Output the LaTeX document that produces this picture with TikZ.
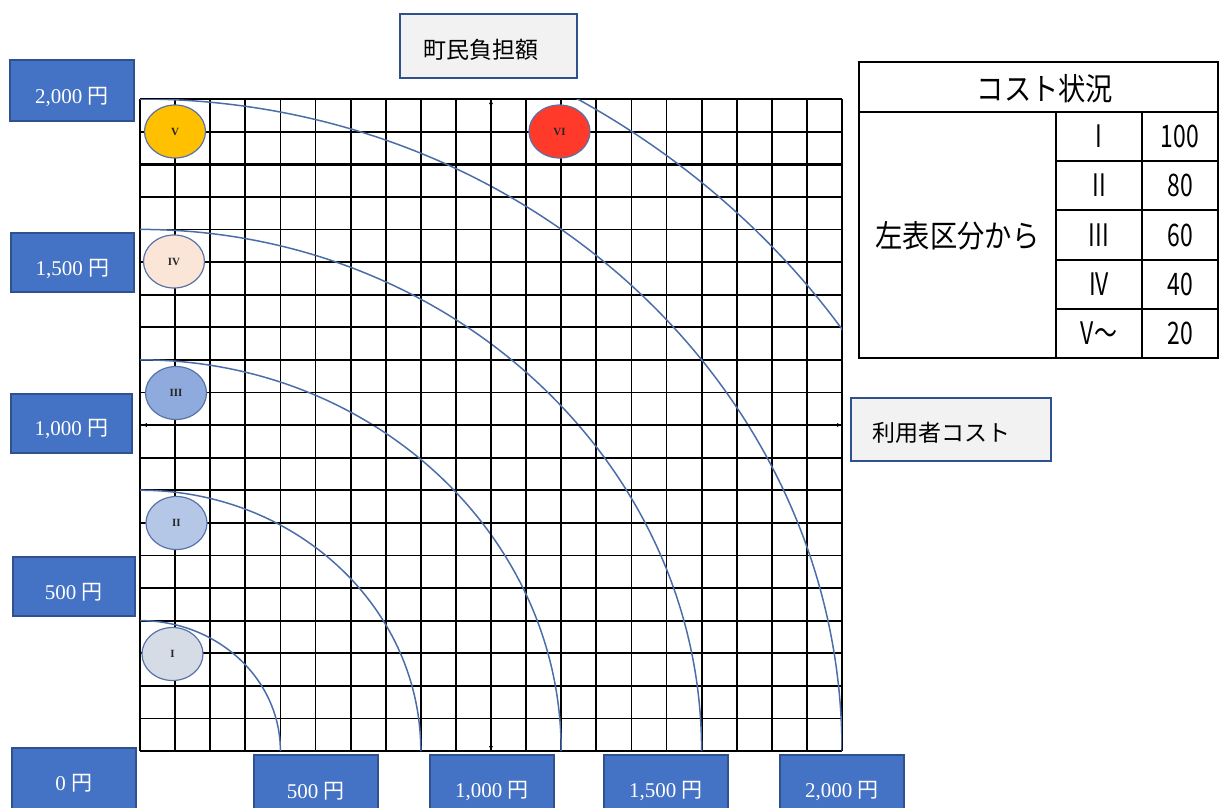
\documentclass[tikz,border=0pt]{standalone}
\usepackage{fontspec}
\usepackage{graphicx}
\setmainfont{Liberation Serif}
\newfontfamily\jp{Noto Sans CJK JP}
\usetikzlibrary{shapes.geometric,arrows.meta,calc}
\definecolor{boxblue}{HTML}{4472C4}
\definecolor{boxedge}{HTML}{2F528F}
\definecolor{boxgray}{HTML}{F2F2F2}
\definecolor{arccol}{HTML}{4B6EA9}
\definecolor{badgeedge}{HTML}{5873A8}
\definecolor{cV}{HTML}{FFC000}
\definecolor{cVI}{HTML}{FF3A2A}
\definecolor{cIV}{HTML}{FBE5D6}
\definecolor{cIII}{HTML}{8FAADC}
\definecolor{cII}{HTML}{B4C7E7}
\definecolor{cI}{HTML}{D6DCE5}
\newcommand\jpx[1]{\scalebox{0.88}[1]{#1}}
\newcommand\nrw[1]{\scalebox{0.74}[1]{#1}}
\begin{document}
\begin{tikzpicture}[x=1pt,y=-1pt,
  bluebox/.style={draw=boxedge, fill=boxblue, line width=1.5pt, inner sep=0pt, anchor=north west},
  bluetext/.style={text=white, font=\fontsize{21}{21}\selectfont, inner sep=0pt},
  graybox/.style={draw=boxedge, fill=boxgray, line width=2pt, inner sep=0pt, anchor=north west},
  jptext/.style={font=\jp\fontsize{23}{23}\selectfont, inner sep=0pt},
  badge/.style={ellipse, draw=badgeedge, line width=1.2pt, minimum width=61pt, minimum height=53pt, inner sep=0pt, font=\bfseries\fontsize{11}{11}\selectfont, text=black!85},
  tabtext/.style={font=\jp\fontsize{31}{31}\selectfont, inner sep=0pt},
  gridline/.style={line width=1.8pt},
  curve/.style={draw=arccol, line width=1.5pt},
  axisline/.style={line width=1.8pt, {Latex[length=5pt,width=4pt]}-{Latex[length=5pt,width=4pt]}},
  tabline/.style={line width=1.8pt},
]
\useasboundingbox (0,0) rectangle (1219,807);

% grid, arcs, axes
\begin{scope}[shift={(140,751)}, x=35.1pt, y=32.6pt]
  \draw[gridline, step=1] (0,0) grid (20,20);
  \draw[line width=3pt] (0,18) -- (20,18);
  \begin{scope}
    \clip (0,0) rectangle (20,20);
    \draw[curve] (0,4) arc[start angle=90, end angle=0, radius=4];
    \draw[curve] (0,8) arc[start angle=90, end angle=0, radius=8];
    \draw[curve] (0,12) arc[start angle=90, end angle=0, radius=12];
    \draw[curve] (0,16) arc[start angle=90, end angle=0, radius=16];
    \draw[curve] (0,20) arc[start angle=90, end angle=0, radius=20];
    \draw[curve] (0,23.4) arc[start angle=90, end angle=0, x radius=24, y radius=23.4];
  \end{scope}
  \coordinate (xl) at (0.05,10);
  \coordinate (xr) at (20,10);
  \coordinate (yb) at (10,0);
  \coordinate (yt) at (10,20);
  \draw[axisline] (xl) -- (xr);
  \draw[axisline] (yb) -- (yt);
\end{scope}

% badges
\node[badge, fill=cV] (bV) at (175,131.5) {V};
\node[badge, fill=cVI] (bVI) at (559.5,131.5) {VI};
\node[badge, fill=cIV] (bIV) at (174,261.5) {IV};
\node[badge, fill=cIII] (bIII) at (176,393) {III};
\node[badge, fill=cII] (bII) at (176.5,523) {II};
\node[badge, fill=cI] (bI) at (172.5,654) {I};

% left value boxes
\node[bluebox, minimum width=124pt, minimum height=61pt] (l2000) at (9,59) {};
\node[bluetext] (t l2000) at ($(l2000.north)+(0,38)$) {2,000 {\jp 円}};
\node[bluebox, minimum width=123pt, minimum height=59pt] (l1500) at (10,232) {};
\node[bluetext] (t l1500) at ($(l1500.north)+(0,37)$) {1,500 {\jp 円}};
\node[bluebox, minimum width=121pt, minimum height=59pt] (l1000) at (10,393) {};
\node[bluetext] (t l1000) at ($(l1000.north)+(0,36)$) {1,000 {\jp 円}};
\node[bluebox, minimum width=122pt, minimum height=59pt] (l500) at (12,556) {};
\node[bluetext] (t l500) at ($(l500.north)+(0,36)$) {500 {\jp 円}};
\node[bluebox, minimum width=124pt, minimum height=62pt] (l0) at (11,747) {};
\node[bluetext] (t l0) at ($(l0.north)+(0,36)$) {0 {\jp 円}};

% bottom value boxes
\node[bluebox, minimum width=124pt, minimum height=60pt] (b500) at (253,754) {};
\node[bluetext] (t b500) at ($(b500.north)+(0,37)$) {500 {\jp 円}};
\node[bluebox, minimum width=124pt, minimum height=60pt] (b1000) at (429,754) {};
\node[bluetext] (t b1000) at ($(b1000.north)+(0,37)$) {1,000 {\jp 円}};
\node[bluebox, minimum width=124pt, minimum height=60pt] (b1500) at (603,754) {};
\node[bluetext] (t b1500) at ($(b1500.north)+(0,37)$) {1,500 {\jp 円}};
\node[bluebox, minimum width=124pt, minimum height=60pt] (b2000) at (779,754) {};
\node[bluetext] (t b2000) at ($(b2000.north)+(0,37)$) {2,000 {\jp 円}};

% axis title boxes
\node[graybox, minimum width=177pt, minimum height=64pt] (town) at (399,13) {};
\node[jptext] (t town) at (481,50) {町民負担額};
\node[graybox, minimum width=200pt, minimum height=63pt] (user) at (850,397) {};
\node[jptext, anchor=west] (t user) at (872,433) {利用者コスト};

% table
\draw[tabline] (859,62) rectangle (1218,358);
\draw[tabline] (859,112) -- (1218,112);
\draw[tabline] (1056,112) -- (1056,358);
\draw[tabline] (1142,112) -- (1142,358);
\foreach \yy in {161,210,260,309} \draw[tabline] (1056,\yy) -- (1218,\yy);
\node[tabtext] (hdr) at (1045,89) {\jpx{コスト状況}};
\node[tabtext] (src) at (957.5,236) {\jpx{左表区分から}};
\node[tabtext] (r1) at (1099,136.5) {\nrw{I}};
\node[tabtext] (r2) at (1099,185.5) {\nrw{II}};
\node[tabtext] (r3) at (1099,235) {\nrw{III}};
\node[tabtext] (r4) at (1099,284.5) {\nrw{IV}};
\node[tabtext] (r5) at (1099,333.5) {\nrw{V～}};
\node[tabtext] (v1) at (1180,136.5) {\nrw{100}};
\node[tabtext] (v2) at (1180,185.5) {\nrw{80}};
\node[tabtext] (v3) at (1180,235) {\nrw{60}};
\node[tabtext] (v4) at (1180,284.5) {\nrw{40}};
\node[tabtext] (v5) at (1180,333.5) {\nrw{20}};
\end{tikzpicture}
\end{document}
